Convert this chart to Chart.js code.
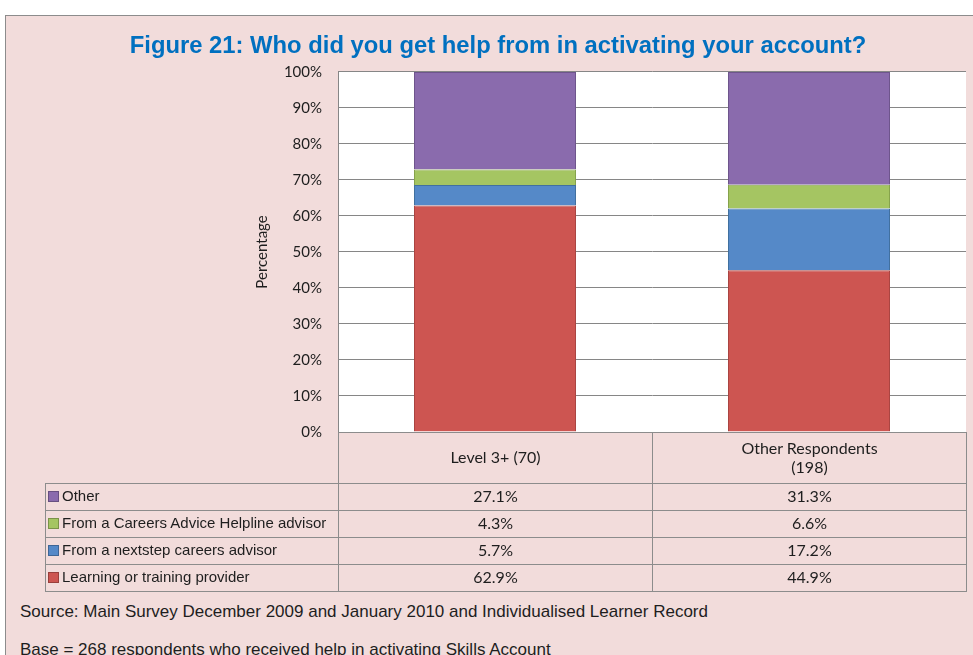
<!DOCTYPE html>
<html>
<head>
<meta charset="utf-8">
<script src="https://cdn.jsdelivr.net/npm/chart.js@4.4.0/dist/chart.umd.min.js"></script>
<style>
  html, body { margin: 0; padding: 0; width: 973px; height: 655px; overflow: hidden; background: #fff; }
  #frame { position: absolute; left: 5px; top: 15px; width: 1000px; height: 700px; background: #f2dcdb; border: 1px solid #8c8c8c; }
  #chart { position: absolute; left: 30px; top: 0; }
  #dataTable { position: absolute; border-collapse: collapse; table-layout: fixed; font-family: Lato, sans-serif; font-size: 16px; color: #1e1e1e; }
  #dataTable td { border: 1px solid #8c8c8c; text-align: center; padding: 0 0 3px 0; height: 23px; }
  #dataTable tr.head td { height: 47px; line-height: 19px; }
  #dataTable td.blank { border-left: none; border-top: none; }
  #dataTable td.name { text-align: left; padding-left: 2px; font-family: "Liberation Sans", Arial, sans-serif; font-size: 15px; white-space: nowrap; }
  .swatch { display: inline-block; width: 9px; height: 9px; margin-right: 3px; vertical-align: -1px; border: 1px solid rgba(0,0,0,0.25); }
  .note { position: absolute; left: 20px; font-family: "Liberation Sans", Arial, sans-serif; font-size: 17px; color: #1e1e1e; white-space: nowrap; }
</style>
</head>
<body>
<div id="frame"></div>
<canvas id="chart" width="936" height="457"></canvas>
<table id="dataTable"></table>
<div class="note" id="source" style="top:602px">Source: Main Survey December 2009 and January 2010 and Individualised Learner Record</div>
<div class="note" id="base" style="top:640px">Base = 268 respondents who  received help in activating Skills Account</div>
<script>
// --- DATA ---
const categories = ['Level 3+ (70)', 'Other Respondents\n(198)'];
const seriesNames = ['Learning or training provider', 'From a nextstep careers advisor', 'From a Careers Advice Helpline advisor', 'Other'];
const learningProvider = [62.9, 44.9];
const nextstepAdvisor = [5.7, 17.2];
const helplineAdvisor = [4.3, 6.6];
const otherHelp = [27.1, 31.3];

const fillColors = ['#cd5551', '#5589c8', '#a5c562', '#8a6bad'];
const edgeColors = ['#a94542', '#41709f', '#86a24c', '#6e558c'];

// white plot background
const plotBackground = {
  id: 'plotBackground',
  beforeDraw(chart) {
    const a = chart.chartArea;
    const c = chart.ctx;
    c.save();
    c.fillStyle = '#ffffff';
    c.fillRect(a.left, a.top, a.right - a.left, a.bottom - a.top);
    c.restore();
  }
};

const allSeries = [learningProvider, nextstepAdvisor, helplineAdvisor, otherHelp];

const ctx = document.getElementById('chart').getContext('2d');
const chart = new Chart(ctx, {
  type: 'bar',
  data: {
    labels: categories,
    datasets: allSeries.map((values, i) => ({
      label: seriesNames[i],
      data: values,
      backgroundColor: fillColors[i],
      borderColor: edgeColors[i],
      borderWidth: 1,
      categoryPercentage: 1,
      barPercentage: 0.516
    }))
  },
  options: {
    responsive: false,
    animation: false,
    layout: { padding: { left: 0, right: 0, top: 0, bottom: 8 } },
    plugins: {
      legend: { display: false },
      tooltip: { enabled: false },
      title: {
        display: true,
        text: 'Figure 21: Who did you get help from in activating your account?',
        color: '#0070c0',
        font: { family: '"Liberation Sans", Arial, sans-serif', size: 23.8, weight: 'bold' },
        padding: { top: 32, bottom: 11.4 }
      }
    },
    scales: {
      x: { stacked: true, display: false },
      y: {
        stacked: true,
        min: 0,
        max: 100,
        afterFit(scale) { scale.width = 308; },
        ticks: {
          stepSize: 10,
          padding: 16,
          color: '#1e1e1e',
          font: { family: 'Lato, sans-serif', size: 15 },
          callback: v => v + '%'
        },
        grid: { color: '#868686', lineWidth: 1, drawTicks: false },
        border: { display: true, color: '#868686' },
        title: {
          display: true,
          text: 'Percentage',
          color: '#1e1e1e',
          font: { family: 'Lato, sans-serif', size: 15 },
          padding: { top: 223, bottom: 0 }
        }
      }
    }
  },
  plugins: [plotBackground]
});

// --- DATA TABLE UNDER THE CHART ---
const area = chart.chartArea;
const canvasLeft = 30;
const table = document.getElementById('dataTable');
const tableLeft = 45;
const colW = (area.right - area.left) / 2;
table.style.left = tableLeft + 'px';
table.style.top = Math.round(area.bottom) + 'px';

let html = '<colgroup><col style="width:' + (canvasLeft + area.left - tableLeft) + 'px">' +
  '<col style="width:' + colW + 'px"><col style="width:' + colW + 'px"></colgroup>';
html += '<tr class="head"><td class="blank"></td>' +
  categories.map(c => '<td>' + c.replace('\n', '<br>') + '</td>').join('') + '</tr>';
for (let i = allSeries.length - 1; i >= 0; i--) {
  html += '<tr><td class="name"><span class="swatch" style="background:' + fillColors[i] + '"></span>' +
    seriesNames[i] + '</td>' +
    allSeries[i].map(v => '<td>' + v.toFixed(1) + '%</td>').join('') + '</tr>';
}
table.innerHTML = html;
</script>
</body>
</html>
